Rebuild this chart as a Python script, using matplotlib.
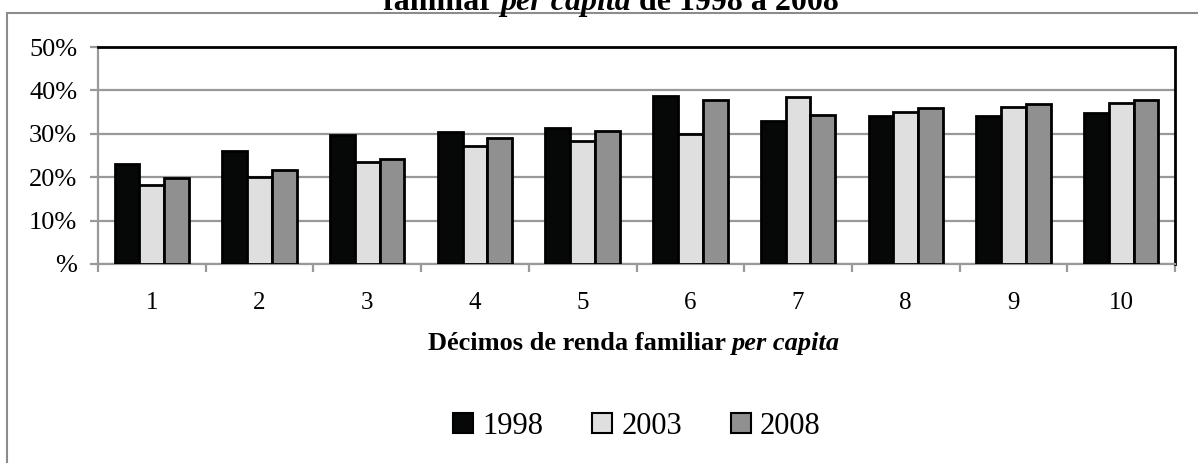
import matplotlib
matplotlib.use("Agg")
import matplotlib.pyplot as plt
import numpy as np
from matplotlib.patches import Patch, Rectangle
from matplotlib.ticker import FixedLocator, FuncFormatter

plt.rcParams['font.family'] = ['Liberation Serif', 'DejaVu Serif']

categories = ['1', '2', '3', '4', '5', '6', '7', '8', '9', '10']
series_names = ['1998', '2003', '2008']
v1998 = [23.0, 26.0, 29.8, 30.5, 31.3, 38.7, 33.0, 34.1, 34.1, 34.8]
v2003 = [18.2, 20.1, 23.5, 27.3, 28.4, 30.0, 38.5, 35.0, 36.1, 37.1]
v2008 = [19.9, 21.6, 24.3, 29.0, 30.6, 37.8, 34.4, 35.9, 36.8, 37.8]
colors = ['#060807', '#DEDFDE', '#909090']
yticks = [0, 10, 20, 30, 40, 50]

W, H = 1198, 463
fig = plt.figure(figsize=(W / 100, H / 100), dpi=100)

def fx(px):
    return px / W

def fy(py):
    return 1 - py / H

# outer frame of the chart area (left and top edges visible)
fig.patches.append(Rectangle((fx(7), fy(470)), fx(1300), fy(13) - fy(470),
                             transform=fig.transFigure, fill=False,
                             edgecolor='#8c8c8c', linewidth=1.5))

ax = fig.add_axes([fx(98), fy(264), fx(1175) - fx(98), fy(47) - fy(264)])

x = np.arange(len(categories))
bw = 0.23
for i, (vals, c) in enumerate(zip([v1998, v2003, v2008], colors)):
    ax.bar(x + (i - 1) * bw, vals, width=bw, color=c, edgecolor='black',
           linewidth=2.0, zorder=3)

ax.set_xlim(-0.5, len(categories) - 0.5)
ax.set_ylim(0, 50)
ax.yaxis.set_major_locator(FixedLocator(yticks))
ax.yaxis.set_major_formatter(FuncFormatter(lambda v, p: '%' if v == 0 else f'{int(v)}%'))
ax.grid(axis='y', color='#999999', linewidth=1.6, zorder=0)
ax.set_axisbelow(True)

ax.set_xticks(x)
ax.set_xticklabels(categories)
ax.set_xticks(np.arange(-0.5, len(categories), 1.0), minor=True)
ax.tick_params(axis='x', which='major', length=0, pad=20, labelsize=18)
ax.tick_params(axis='x', which='minor', length=6, width=1.6, color='#999999', direction='out')
ax.tick_params(axis='y', which='major', length=6, width=1.6, color='#999999', pad=9, labelsize=19)

for s in ['left', 'bottom']:
    ax.spines[s].set_color('#999999')
    ax.spines[s].set_linewidth(1.6)
for s in ['top', 'right']:
    ax.spines[s].set_color('black')
    ax.spines[s].set_linewidth(2.0)

fig.canvas.draw()
renderer = fig.canvas.get_renderer()

def rich_text(pieces, cx, y, size):
    # pieces: list of (text, style)
    objs = []
    widths = []
    for t, st in pieces:
        o = fig.text(0, y, t, fontsize=size, fontweight='bold', fontstyle=st,
                     ha='left', va='baseline')
        objs.append(o)
        widths.append(o.get_window_extent(renderer).width)
    total = sum(widths)
    start = cx * W - total / 2
    for o, w in zip(objs, widths):
        o.set_x(start / W)
        start += w

rich_text([('familiar ', 'normal'), ('per capita', 'italic'), (' de 1998 a 2008', 'normal')],
          fx(611), fy(10), 23)
rich_text([('Décimos de renda familiar ', 'normal'), ('per capita', 'italic')],
          fx(634), fy(350), 19)

handles = [Patch(facecolor=c, edgecolor='black', linewidth=1.5) for c in colors]
fig.legend(handles, series_names, loc='center', bbox_to_anchor=(fx(637), fy(426)),
           ncol=3, frameon=False, fontsize=22, handlelength=0.65, handleheight=0.65,
           handletextpad=0.3, columnspacing=1.6)

fig.savefig('out.png', dpi=100)
